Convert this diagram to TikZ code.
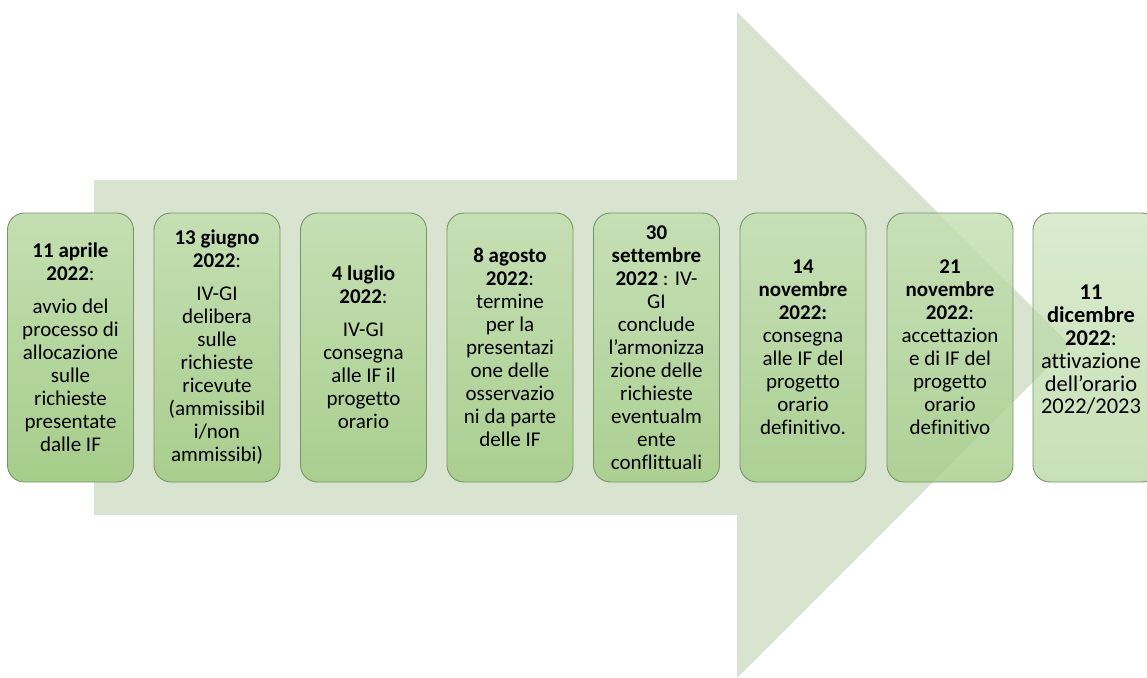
\documentclass[tikz,border=0pt]{standalone}
\usepackage{fontspec}
\setmainfont{Carlito}[Ligatures=NoCommon]
\definecolor{arrowgreen}{RGB}{216,228,207}
\definecolor{boxtop}{RGB}{196,223,178}
\definecolor{boxbot}{RGB}{166,205,138}
\definecolor{boxline}{RGB}{120,148,106}
\tikzset{
  stagebox/.style={draw=boxline, line width=0.9pt, rounded corners=17pt,
    top color=boxtop, bottom color=boxbot, text opacity=1, draw opacity=1,
    minimum width=126pt, minimum height=269pt, inner sep=0pt, align=center,
    font=\fontsize{21}{23}\selectfont, text=black}
}
\begin{document}
\begin{tikzpicture}[x=1pt,y=-1pt]
\useasboundingbox (0,0) rectangle (1147,677);
\clip (0,0) rectangle (1147,677);
\fill[arrowgreen] (94,180) -- (737,180) -- (737,12) -- (1070,345) -- (737,678) -- (737,515) -- (94,515) -- cycle;
\node[stagebox, fill opacity=1.00] (b1) at (70.5,347.5) {\textbf{11 aprile}\\\textbf{2022}:\\[10pt]avvio del\\processo di\\allocazione\\sulle\\richieste\\presentate\\dalle IF};
\node[stagebox, fill opacity=0.95] (b2) at (217,347.5) {\textbf{13 giugno}\\\textbf{2022}:\\[10pt]IV-GI\\delibera\\sulle\\richieste\\ricevute\\(ammissibil\\i/non\\ammissibi)};
\node[stagebox, fill opacity=0.92] (b3) at (363.5,347.5) {\textbf{4 luglio}\\\textbf{2022}:\\[10pt]IV-GI\\consegna\\alle IF il\\progetto\\orario};
\node[stagebox, fill opacity=0.90] (b4) at (510,347.5) {\textbf{8 agosto}\\\textbf{2022}:\\termine\\per la\\presentazi\\one delle\\osservazio\\ni da parte\\delle IF};
\node[stagebox, fill opacity=0.87] (b5) at (656.5,347.5) {\textbf{30}\\\textbf{settembre}\\\textbf{2022} : IV-\\GI\\conclude\\l’armonizza\\zione delle\\richieste\\eventualm\\ente\\conflittuali};
\node[stagebox, fill opacity=0.85] (b6) at (803,347.5) {\textbf{14}\\\textbf{novembre}\\\textbf{2022:}\\consegna\\alle IF del\\progetto\\orario\\definitivo.};
\node[stagebox, fill opacity=0.82] (b7) at (950,347.5) {\textbf{21}\\\textbf{novembre}\\\textbf{2022}:\\accettazion\\e di IF del\\progetto\\orario\\definitivo};
\node[stagebox, fill opacity=0.62] (b8) at (1096,347.5) {};
\node[align=center, inner sep=0pt, text=black, font=\fontsize{22.5}{22.8}\selectfont] (b8text) at (1091,350) {\textbf{11}\\\textbf{dicembre}\\\textbf{2022}:\\attivazione\\dell’orario\\2022/2023};
\end{tikzpicture}
\end{document}
